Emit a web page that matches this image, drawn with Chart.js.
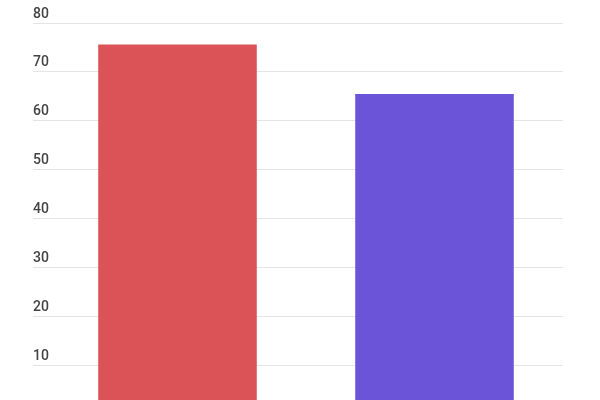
<!DOCTYPE html>
<html>
<head>
<meta charset="utf-8">
<script src="https://cdn.jsdelivr.net/npm/chart.js@4/dist/chart.umd.min.js"></script>
<style>
  html, body { margin: 0; padding: 0; background: #fff; overflow: hidden; }
  #wrap { width: 600px; height: 400px; }
</style>
</head>
<body>
<div id="wrap"><canvas id="chart"></canvas></div>
<script>
// chart data
const categories = ['Category 1', 'Category 2'];
const values = [75.6, 65.5];
const barColors = ['#db5356', '#6c54d8'];

const ctx = document.getElementById('chart');

new Chart(ctx, {
    type: 'bar',
    data: {
        labels: categories,
        datasets: [{
            data: values,
            backgroundColor: barColors,
            borderWidth: 0,
            barPercentage: 0.617,
            categoryPercentage: 1
        }]
    },
    options: {
        responsive: true,
        maintainAspectRatio: false,
        animation: false,
        layout: {
            padding: { left: 33, right: 37, top: 23, bottom: 0 }
        },
        plugins: {
            legend: { display: false },
            tooltip: { enabled: false }
        },
        scales: {
            x: { display: false },
            y: {
                // bottom of the chart is cut off by the picture frame
                min: 3,
                max: 80,
                border: { display: false },
                grid: {
                    color: '#e4e4e4',
                    lineWidth: 1,
                    drawTicks: true,
                    tickLength: 16
                },
                ticks: {
                    stepSize: 10,
                    includeBounds: false,
                    crossAlign: 'far',
                    padding: 0,
                    labelOffset: -9,
                    color: '#444',
                    font: { family: 'Roboto', size: 14, weight: '500' }
                },
                afterFit: function(scale){
                    // labels sit above the grid lines, keep the axis narrow
                    scale.width = 16;
                    scale.paddingTop = 0;
                    scale.paddingBottom = 0;
                }
            }
        }
    }
});
</script>
</body>
</html>
